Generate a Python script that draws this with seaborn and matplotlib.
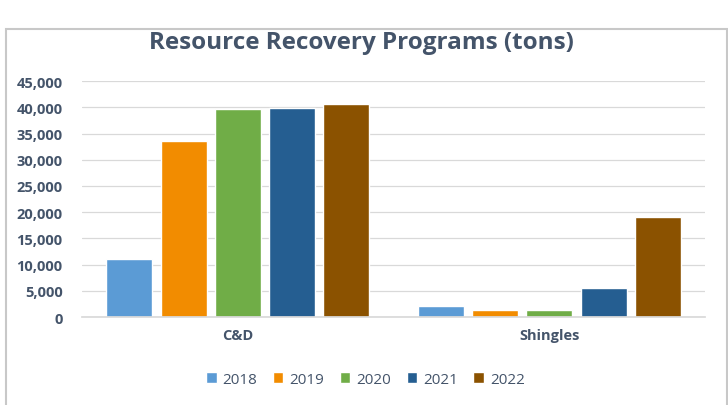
import pandas as pd
import seaborn as sns
import matplotlib.pyplot as plt
from matplotlib.patches import Rectangle
from matplotlib.ticker import FuncFormatter

categories = ["C&D", "Shingles"]
years = ["2018", "2019", "2020", "2021", "2022"]
cd_tons = [11000, 33500, 39600, 39800, 40700]
shingles_tons = [2100, 1300, 1300, 5500, 19100]
colors = ["#5B9BD5", "#F28C00", "#70AD47", "#255E91", "#8B5200"]

rows = []
for y, a, b in zip(years, cd_tons, shingles_tons):
    rows.append({"Program": "C&D", "Year": y, "Tons": a})
    rows.append({"Program": "Shingles", "Year": y, "Tons": b})
df = pd.DataFrame(rows)

sns.set_theme(style="white")
plt.rcParams["font.family"] = ["Open Sans", "DejaVu Sans"]

text_col = "#44546A"

fig = plt.figure(figsize=(7.28, 4.06), dpi=100)
ax = fig.add_axes([0.1126, 0.2167, 0.856, 0.581])

sns.barplot(data=df, x="Program", y="Tons", hue="Year", order=categories,
            hue_order=years, palette=colors, width=0.87, gap=0.15,
            saturation=1, ax=ax, legend=True)

ax.set_ylim(0, 45000)
ax.set_xlim(-0.5, 1.5)
ax.set_yticks(range(0, 45001, 5000))
ax.yaxis.set_major_formatter(FuncFormatter(lambda v, p: f"{int(v):,}"))
ax.grid(axis="y", color="#D9D9D9", linewidth=0.9)
ax.set_axisbelow(True)
for s in ["top", "right", "left"]:
    ax.spines[s].set_visible(False)
ax.spines["bottom"].set_color("#D9D9D9")
ax.tick_params(axis="y", length=0, pad=14, labelsize=10.5, labelcolor=text_col)
ax.tick_params(axis="x", length=0, pad=8, labelsize=10.5, labelcolor=text_col)
for lbl in ax.get_yticklabels() + ax.get_xticklabels():
    lbl.set_fontweight("bold")
ax.set_xlabel("")
ax.set_ylabel("")

leg = ax.legend(loc="center", bbox_to_anchor=(0.455, -0.265), ncol=5,
                frameon=False, fontsize=11, handlelength=0.7, handleheight=0.7,
                handletextpad=0.4, columnspacing=1.0)
for t in leg.get_texts():
    t.set_color(text_col)

fig.text(0.497, 0.893, "Resource Recovery Programs (tons)", ha="center",
         va="center", fontsize=17.5, fontweight="bold", color=text_col)

# outer card border
fig.patches.append(Rectangle((0.008, -0.01), 0.99, 0.935, transform=fig.transFigure,
                             fill=False, edgecolor="#C8C8C8", linewidth=1.5))

fig.savefig("out.png", dpi=100)
